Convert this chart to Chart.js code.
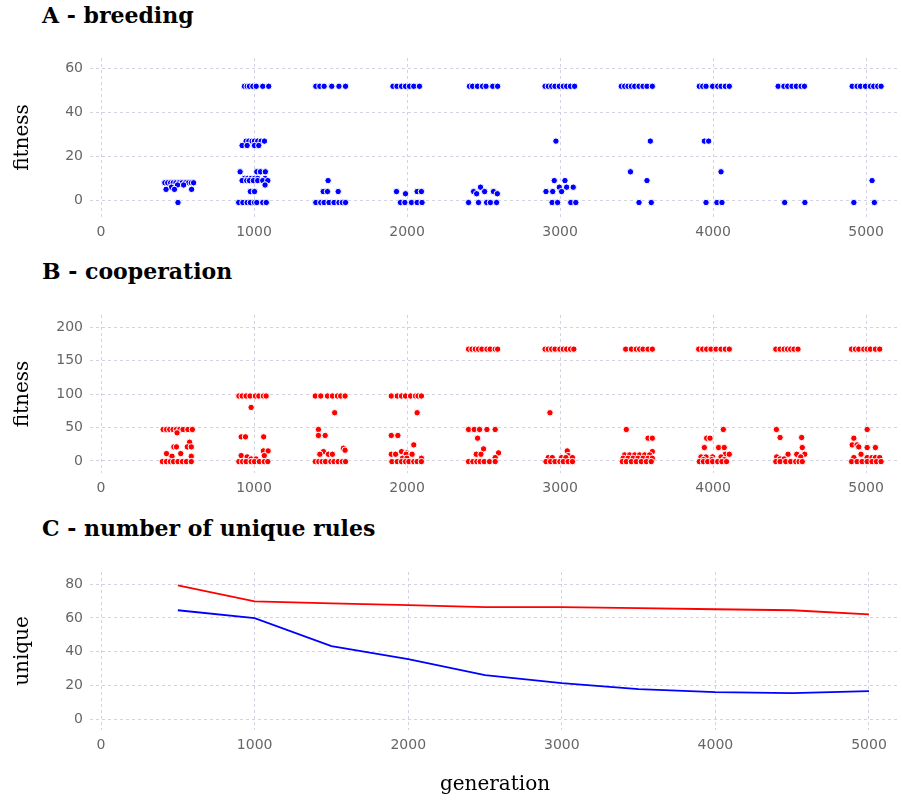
<!DOCTYPE html>
<html>
<head>
<meta charset="utf-8">
<script src="https://cdn.jsdelivr.net/npm/chart.js@4.4.1/dist/chart.umd.min.js"></script>
<style>
  body { margin: 0; background: #fff; }
  #wrap { position: relative; width: 902px; height: 802px; overflow: hidden; }
  .panel-title { position: absolute; left: 42px; font: bold 22px "DejaVu Serif", serif; line-height: 24px; color: #000; white-space: nowrap; }
  canvas { position: absolute; left: 0; }
</style>
</head>
<body>
<div id="wrap">
  <div class="panel-title" style="top:3px">A - breeding</div>
  <div class="panel-title" style="top:259px">B - cooperation</div>
  <div class="panel-title" style="top:516px">C - number of unique rules</div>
  <canvas id="chartA" width="902" height="205" style="top:40px"></canvas>
  <canvas id="chartB" width="902" height="205" style="top:297px"></canvas>
  <canvas id="chartC" width="902" height="252" style="top:550px"></canvas>
</div>
<script>
// x ticks shared by all three panels
const genTicks = [0, 1000, 2000, 3000, 4000, 5000];
const breedingTicks = [0, 20, 40, 60];
const cooperationTicks = [0, 50, 100, 150, 200];
const uniqueTicks = [0, 20, 40, 60, 80];

// A - breeding: [fitness, [generation of each point]]
const breedingRows = [
  // 500
  [8, [417, 436, 455, 472, 490, 510, 530, 552, 572, 590, 605]],
  [7, [500, 540]], [6, [460]], [5, [425, 480, 592]], [-1, [503]],
  // 1000
  [52, [937, 955, 970, 992, 1014, 1057, 1096]],
  [27, [948, 966, 987, 1003, 1024, 1046, 1068]],
  [25, [922, 955, 1003, 1031]],
  [13, [909, 1018, 1042, 1074]],
  [10, [937, 958, 980, 1003, 1024, 1072]],
  [9, [922, 952, 970, 996, 1024, 1057, 1090]],
  [7, [1072]], [4, [976, 1003]],
  [-1, [900, 927, 955, 976, 1003, 1018, 1057, 1080]],
  // 1500
  [52, [1404, 1430, 1458, 1508, 1555, 1598]],
  [9, [1484]], [4, [1452, 1480, 1550]],
  [-1, [1404, 1436, 1458, 1490, 1523, 1555, 1577, 1598]],
  // 2000
  [52, [1908, 1934, 1964, 1990, 2016, 2044, 2081]],
  [4, [1931, 2066, 2094]], [3, [1990]],
  [-1, [1957, 1986, 2029, 2066, 2098]],
  // 2500
  [52, [2408, 2428, 2460, 2493, 2516, 2560, 2592]],
  [6, [2480]], [4, [2435, 2507, 2565]], [3, [2455, 2590]],
  [-1, [2402, 2467, 2520, 2545, 2585]],
  // 3000
  [52, [2902, 2923, 2945, 2967, 2995, 3021, 3043, 3068, 3095]],
  [27, [2973]], [9, [2962, 3032]], [6, [2995, 3043, 3086]], [4, [2908, 2952, 3010]],
  [-1, [2948, 2984, 3070, 3103]],
  // 3500
  [52, [3400, 3422, 3444, 3466, 3488, 3516, 3542, 3568, 3603]],
  [27, [3590]], [13, [3460]], [9, [3568]], [-1, [3516, 3596]],
  // 4000
  [52, [3910, 3932, 3954, 3997, 4030, 4052, 4080, 4106]],
  [27, [3943, 3971]], [13, [4052]], [-1, [3954, 4025, 4058]],
  // 4500
  [52, [4425, 4463, 4488, 4516, 4544, 4575, 4597]],
  [-1, [4468, 4600]],
  // 5000
  [52, [4909, 4941, 4963, 4996, 5028, 5050, 5076, 5098]],
  [9, [5039]], [-1, [4920, 5054]]
];

// B - cooperation: [fitness, [generation of each point]]
const cooperationRows = [
  // 500
  [47, [406, 428, 449, 471, 493, 514, 536, 568, 597]],
  [42, [497]], [28, [579]], [21, [476, 493, 564, 590]], [11, [428, 521]], [7, [464, 590]],
  [-1, [401, 427, 453, 474, 503, 532, 558, 590]],
  // 1000
  [97, [901, 922, 948, 974, 1009, 1031, 1061, 1079]],
  [80, [981]], [36, [916, 944, 1063]], [15, [1061, 1092]], [8, [916, 1067]], [6, [955]], [3, [981, 1013]],
  [-1, [901, 925, 948, 981, 1003, 1035, 1067, 1090]],
  // 1500
  [97, [1400, 1436, 1480, 1512, 1545, 1566, 1595]],
  [72, [1527]], [47, [1421]], [38, [1421, 1465]], [19, [1584]], [16, [1595]], [14, [1454]], [10, [1430, 1486, 1512]],
  [-1, [1400, 1423, 1445, 1467, 1502, 1523, 1550, 1577, 1598]],
  // 2000
  [97, [1897, 1936, 1964, 1990, 2023, 2055, 2072, 2094]],
  [72, [2066]], [38, [1897, 1940]], [24, [2044]], [14, [1964]], [12, [1996]], [10, [1897, 1925, 1994, 2033]], [4, [1970, 1999, 2094]],
  [-1, [1901, 1936, 1964, 1990, 2012, 2044, 2066, 2094]],
  // 2500
  [167, [2402, 2424, 2446, 2467, 2489, 2522, 2543, 2576, 2592]],
  [47, [2402, 2439, 2474, 2522, 2576]], [34, [2461]], [18, [2500]], [12, [2598]], [10, [2452, 2483]], [5, [2576]],
  [-1, [2402, 2430, 2456, 2478, 2504, 2539, 2576]],
  // 3000
  [167, [2902, 2923, 2945, 2967, 2999, 3021, 3043, 3068, 3090]],
  [72, [2934]], [15, [3047]], [8, [3053]], [5, [2923, 2949, 3010, 3038, 3081]],
  [-1, [2908, 2938, 2967, 2999, 3021, 3053, 3081]],
  // 3500
  [167, [3429, 3466, 3498, 3520, 3542, 3575, 3603]],
  [47, [3433]], [34, [3575, 3603]], [14, [3603]], [9, [3422, 3455, 3488, 3520, 3553, 3585]], [4, [3412, 3444, 3477, 3509, 3542, 3575, 3603]],
  [-1, [3407, 3433, 3466, 3498, 3531, 3564, 3596]],
  // 4000
  [167, [3906, 3932, 3958, 3986, 4019, 4052, 4080, 4106]],
  [47, [4067]], [34, [3958, 3980]], [20, [3943, 4036, 4073]], [10, [4080, 4106]], [6, [3921, 3954, 3997, 4052]], [2, [3937, 3991, 4073]],
  [-1, [3910, 3937, 3965, 3997, 4030, 4058, 4088]],
  // 4500
  [167, [4410, 4438, 4464, 4486, 4507, 4529, 4555]],
  [47, [4414]], [35, [4438, 4579]], [20, [4583]], [10, [4490, 4547, 4599]], [6, [4416, 4573]], [3, [4438, 4464]],
  [-1, [4410, 4438, 4475, 4507, 4540, 4562, 4583]],
  // 5000
  [167, [4905, 4930, 4952, 4985, 5007, 5028, 5061, 5089]],
  [47, [5007]], [34, [4920]], [24, [4909, 4941]], [21, [4952]], [20, [5007, 5061]], [10, [4967]], [5, [4920, 5007, 5039, 5061, 5089]],
  [-1, [4905, 4941, 4974, 5007, 5039, 5068, 5098]]
];

// C - number of unique rules
const lineGenerations = [500, 1000, 1500, 2000, 2500, 3000, 3500, 4000, 4500, 5000];
const uniqueCooperation = [79.4, 69.9, 68.7, 67.6, 66.4, 66.4, 65.8, 65.2, 64.6, 62.2];
const uniqueBreeding = [64.6, 59.9, 43.3, 35.6, 26.1, 21.3, 17.8, 16.0, 15.4, 16.6];

function rowsToPoints(rows) {
  const pts = [];
  rows.forEach(([fit, gens]) => gens.forEach(g => pts.push({ x: g, y: fit })));
  return pts;
}

const gridColor = '#d2d2e2';
const tickColor = '#666666';
const tickFont = { family: 'DejaVu Sans', size: 14 };
const titleFont = { family: 'DejaVu Serif', size: 20 };

function makeScales(yMin, yMax, yTicks, yTitle, xAxisHeight, showXTitle) {
  return {
    x: {
      type: 'linear',
      min: -72,
      max: 5202,
      afterBuildTicks: s => { s.ticks = genTicks.map(v => ({ value: v })); },
      afterFit: s => { s.height = xAxisHeight; },
      grid: { color: gridColor, lineWidth: 1, drawTicks: false },
      border: { display: false, dash: [3, 3] },
      ticks: { color: tickColor, font: tickFont, padding: 7, maxRotation: 0, callback: v => String(v) },
      title: { display: showXTitle, text: 'generation', color: '#000', font: titleFont, padding: { top: 0, bottom: 5 } }
    },
    y: {
      type: 'linear',
      min: yMin,
      max: yMax,
      afterBuildTicks: s => { s.ticks = yTicks.map(v => ({ value: v })); },
      afterFit: s => { s.width = 90; },
      grid: { color: gridColor, lineWidth: 1, drawTicks: false },
      border: { display: false, dash: [3, 3] },
      ticks: { color: tickColor, font: tickFont, padding: 7, callback: v => String(v) },
      title: { display: true, text: yTitle, color: '#000', font: titleFont, padding: { top: 11, bottom: 0 } }
    }
  };
}

const commonOpts = {
  responsive: false,
  animation: false,
  devicePixelRatio: 1,
  plugins: { legend: { display: false }, tooltip: { enabled: false } }
};

new Chart(document.getElementById('chartA'), {
  type: 'scatter',
  data: {
    datasets: [{
      data: rowsToPoints(breedingRows),
      backgroundColor: '#0000ff',
      borderColor: '#ffffff',
      borderWidth: 1,
      pointRadius: 3.2
    }]
  },
  options: Object.assign({}, commonOpts, {
    layout: { padding: { top: 18, right: 2, left: 0, bottom: 0 } },
    scales: makeScales(-7.6, 64.9, breedingTicks, 'fitness', 28, false)
  })
});

new Chart(document.getElementById('chartB'), {
  type: 'scatter',
  data: {
    datasets: [{
      data: rowsToPoints(cooperationRows),
      backgroundColor: '#ff0000',
      borderColor: '#ffffff',
      borderWidth: 1,
      pointRadius: 3.2
    }]
  },
  options: Object.assign({}, commonOpts, {
    layout: { padding: { top: 18, right: 2, left: 0, bottom: 0 } },
    scales: makeScales(-18, 218, cooperationTicks, 'fitness', 29, false)
  })
});

new Chart(document.getElementById('chartC'), {
  type: 'line',
  data: {
    datasets: [
      {
        data: lineGenerations.map((g, i) => ({ x: g, y: uniqueCooperation[i] })),
        borderColor: '#ff0000',
        borderWidth: 1.8,
        pointRadius: 0,
        fill: false
      },
      {
        data: lineGenerations.map((g, i) => ({ x: g, y: uniqueBreeding[i] })),
        borderColor: '#0000ff',
        borderWidth: 1.8,
        pointRadius: 0,
        fill: false
      }
    ]
  },
  options: Object.assign({}, commonOpts, {
    layout: { padding: { top: 22, right: 2, left: 0, bottom: 0 } },
    scales: makeScales(-6.5, 87.3, uniqueTicks, 'unique', 72, true)
  })
});
</script>
</body>
</html>
